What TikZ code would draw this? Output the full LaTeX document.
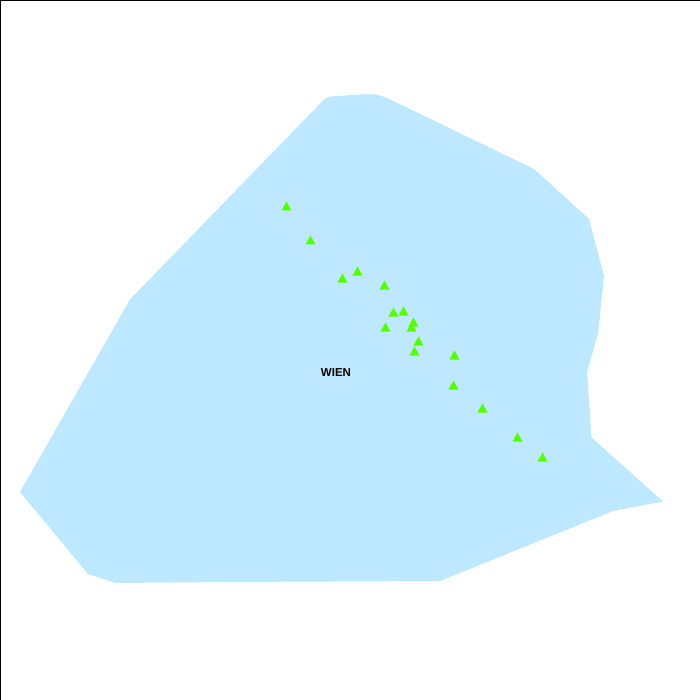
\documentclass[tikz,border=0pt]{standalone}
\usepackage{fontspec}
\setmainfont{Liberation Sans}
\definecolor{regionblue}{HTML}{BEE8FF}
\definecolor{sitegreen}{HTML}{55FF00}
\tikzset{
  region/.style={fill=regionblue, draw=none},
  site/.style={fill=sitegreen, draw=none},
  maplabel/.style={font=\bfseries\fontsize{11.5pt}{12pt}\selectfont, inner sep=0pt, text=black},
  frameline/.style={draw=black, line width=1pt}
}
\begin{document}
\begin{tikzpicture}[x=1pt, y=-1pt]
  \useasboundingbox (0,0) rectangle (700,700);
  \fill[white] (0,0) rectangle (700,700);
  % region
  \path[region] (20,492) -- (130,299.5) -- (325,98.5) -- (331,96.5) -- (346,95.5) -- (360,94.5)
    -- (377,94.5) -- (388,98.5) -- (534,169) -- (589,219) -- (604,276) -- (598,334) -- (587,372)
    -- (591.5,437.5) -- (663,501.5) -- (613,511) -- (440,581) -- (225,582) -- (116,583) -- (88,574) -- cycle;
  % sites
  \foreach \x/\y in {286.5/206, 310.5/240, 342.5/278, 357.5/271, 384.5/285,
    393.5/312, 403.5/311, 413.5/322, 411.5/327, 385.5/327, 418.5/341,
    414.5/351, 454.5/355, 453.5/385, 482.5/408, 517.5/437, 542.5/457}
    \path[site] (\x-5,\y+4.5) -- (\x,\y-4.5) -- (\x+5,\y+4.5) -- cycle;
  \node[maplabel] (wien) at (336,372.5) {WIEN};
  % frame
  \draw[frameline] (0.5,700) -- (0.5,0.5) -- (700,0.5);
\end{tikzpicture}
\end{document}
